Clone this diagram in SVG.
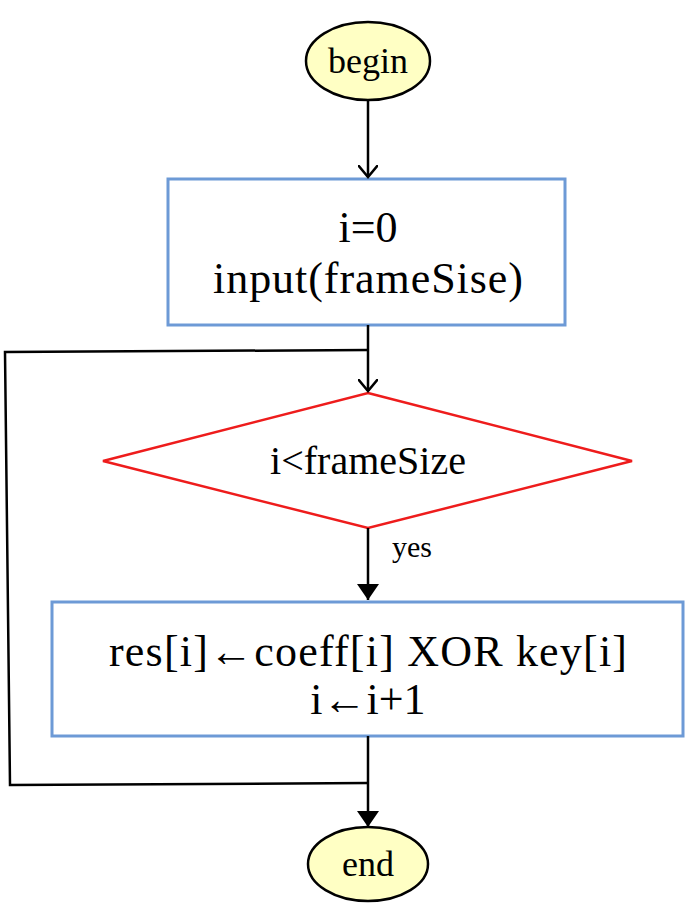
<svg xmlns="http://www.w3.org/2000/svg" width="685" height="913" viewBox="0 0 685 913">
<style>
text{font-family:"Liberation Serif","Times New Roman",serif;font-size:44px;fill:#000;text-anchor:middle}
.term{fill:#ffffc4;stroke:#000;stroke-width:2.5}
.box{fill:#fff;stroke:#6d9ad6;stroke-width:3}
.dia{fill:#fff;stroke:#ee1c1c;stroke-width:2.5}
.ln{fill:none;stroke:#000;stroke-width:2.5}
</style>
<defs>
<marker id="open" markerWidth="14" markerHeight="20" refX="12" refY="10" orient="auto" markerUnits="userSpaceOnUse"><path d="M0,0 L12,10 L0,20" fill="none" stroke="#000" stroke-width="2.5"/></marker>
<marker id="fill" markerWidth="16" markerHeight="22" refX="16" refY="11" orient="auto" markerUnits="userSpaceOnUse"><path d="M0,0 L16,11 L0,22 Z" fill="#000"/></marker>
</defs>
<g id="begin"><ellipse class="term" cx="368" cy="61" rx="62" ry="39"/><text x="368" y="73" style="font-size:36px">begin</text></g>
<g id="init"><rect class="box" x="168" y="179" width="397" height="146"/><text x="368" y="242">i=0</text><text x="368" y="293" textLength="310">input(frameSise)</text></g>
<g id="cond"><polygon class="dia" points="368,393 632,461 368,528 103,461"/><text x="368" y="474" style="font-size:40px">i&lt;frameSize</text></g>
<g id="body"><rect class="box" x="52" y="602" width="631" height="134"/><text x="368" y="666" textLength="518">res[i]←coeff[i] XOR key[i]</text><text x="368" y="714">i←i+1</text></g>
<g id="end"><ellipse class="term" cx="368" cy="864" rx="60" ry="37"/><text x="368" y="876" style="font-size:36px">end</text></g>
<g id="connectors">
<line class="ln" x1="368" y1="100" x2="368" y2="177" marker-end="url(#open)"/>
<line class="ln" x1="368" y1="325" x2="368" y2="391" marker-end="url(#open)"/>
<polyline class="ln" points="368,350 5,352 10,785 368,783"/>
<line class="ln" x1="368" y1="528" x2="368" y2="600" marker-end="url(#fill)"/>
<line class="ln" x1="368" y1="736" x2="368" y2="827" marker-end="url(#fill)"/>
<text x="412" y="557" style="font-size:30px">yes</text>
</g>
</svg>
